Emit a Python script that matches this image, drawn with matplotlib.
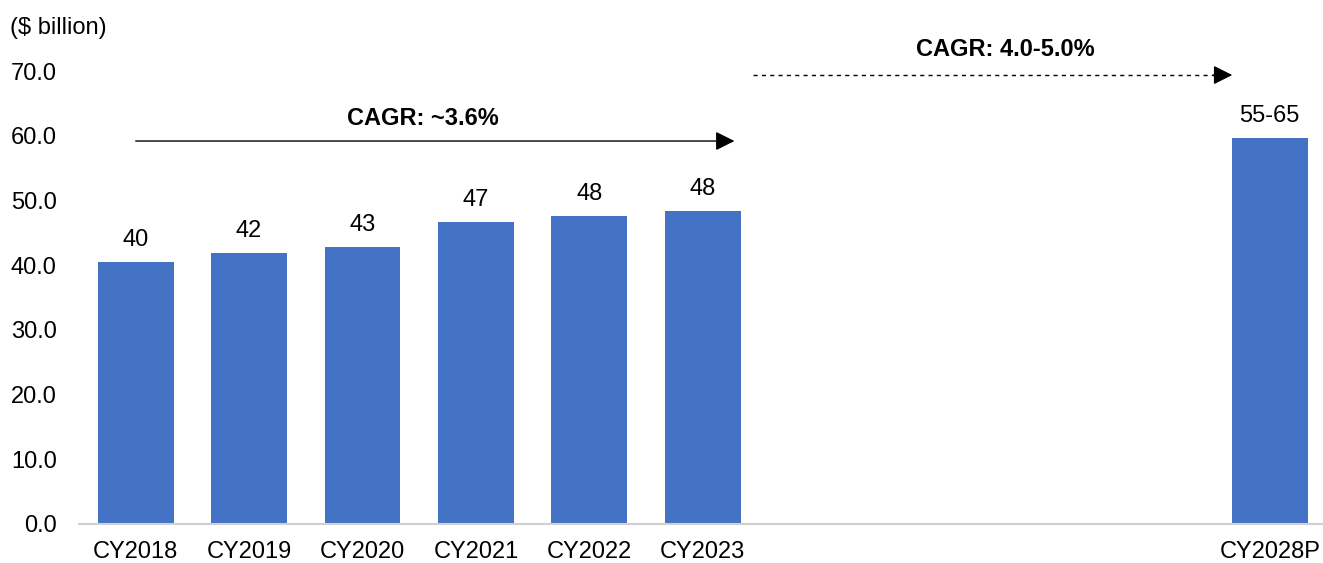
import numpy as np
import matplotlib.pyplot as plt

plt.rcParams['font.family'] = ['Liberation Sans', 'DejaVu Sans']

# Données (en milliards de $)
years = ["CY2018", "CY2019", "CY2020", "CY2021", "CY2022", "CY2023", "CY2028P"]
values = [40.5, 41.9, 42.8, 46.7, 47.6, 48.4, 59.7]
value_labels = ["40", "42", "43", "47", "48", "48", "55-65"]
cagr_hist = "CAGR: ~3.6%"
cagr_proj = "CAGR: 4.0-5.0%"

fig = plt.figure(figsize=(13.23, 5.63), dpi=100)
ax = fig.add_axes([79 / 1323, 39 / 563, 1 - 79 / 1323, 524 / 563])

# Les 6 années historiques côte à côte, la projection à part
x = list(range(len(years) - 1)) + [10]
ax.bar(x, values, width=0.67, color='#4472C4', zorder=2)

for xi, v, lab in zip(x, values, value_labels):
    ax.annotate(lab, (xi, v), xytext=(0, 8), textcoords='offset points',
                ha='center', va='bottom', fontsize=17)

# Flèche CAGR historique (pleine)
ax.annotate("", xy=(5.28, 59.2), xytext=(0, 59.2),
            arrowprops=dict(arrowstyle='-|>', color='black', lw=1,
                            mutation_scale=29, shrinkA=0, shrinkB=0))
ax.text(2.53, 62.75, cagr_hist, ha='center', va='center',
        fontsize=17, fontweight='bold')

# Flèche CAGR projetée : trait pointillé + pointe pleine
ax.plot([5.44, 9.55], [69.4, 69.4], color='black', lw=1, ls=(0, (3, 3)))
ax.annotate("", xy=(9.67, 69.4), xytext=(9.5, 69.4),
            arrowprops=dict(arrowstyle='-|>', color='black', lw=1,
                            mutation_scale=29, shrinkA=0, shrinkB=0))
ax.text(7.67, 73.3, cagr_proj, ha='center', va='center',
        fontsize=17, fontweight='bold')

# Axes
ax.set_xlim(-0.5, 10.47)
ax.set_ylim(0, 81)
ax.set_yticks(np.arange(0, 80, 10))
ax.set_yticklabels([f"{t:.1f}" for t in np.arange(0, 80, 10)])
ax.set_xticks(x)
ax.set_xticklabels(years)
ax.tick_params(axis='both', length=0, labelsize=17)
ax.tick_params(axis='y', pad=16)
ax.tick_params(axis='x', pad=12)
for s in ['top', 'right', 'left']:
    ax.spines[s].set_visible(False)
ax.spines['bottom'].set_color('#D0D0D0')
ax.spines['bottom'].set_linewidth(1.5)

fig.text(10 / 1323, 1 - 28 / 563, "($ billion)", ha='left', va='center', fontsize=17)

fig.savefig("out.png", dpi=100)
